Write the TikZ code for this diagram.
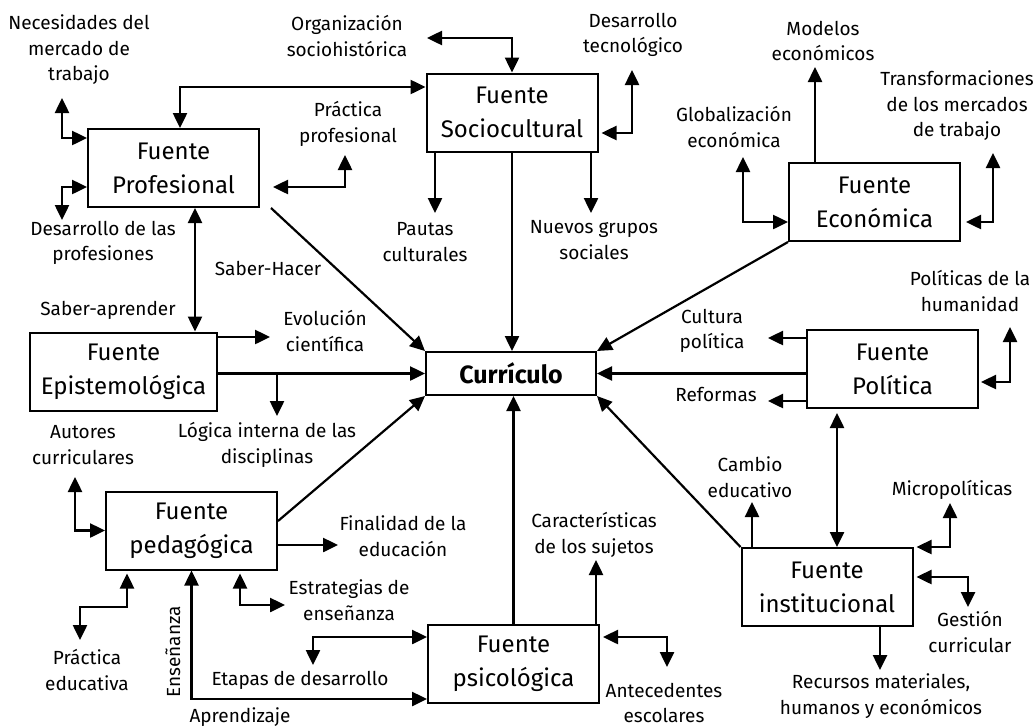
\documentclass[tikz,border=0pt]{standalone}
\usepackage{fontspec}
\setmainfont{Fira Sans}
\usetikzlibrary{arrows.meta}
\begin{document}
\begin{tikzpicture}[x=1pt,y=-1pt,
  >={Triangle[length=15pt,width=14pt]},
  fuente/.style={draw, line width=2pt, align=center, inner sep=0pt,
    minimum width=171pt, minimum height=78pt, font=\fontsize{24}{34}\selectfont},
  lbl/.style={align=center, inner sep=0pt, font=\fontsize{19}{25.5}\selectfont},
  arr/.style={line width=2.5pt, ->},
  dbl/.style={line width=2.5pt, <->},
  diag/.style={line width=2.2pt, ->}]
\useasboundingbox (0,0) rectangle (1036,726);

% sources
\node[fuente] (prof) at (173.5,168) {Fuente\\Profesional};
\node[fuente] (socio) at (512,112.5) {Fuente\\Sociocultural};
\node[fuente] (econ) at (874.5,202) {Fuente\\Económica};
\node[fuente] (pol) at (892.5,369) {Fuente\\Política};
\node[fuente] (inst) at (827,587) {Fuente\\institucional};
\node[fuente] (psico) at (513.5,664) {Fuente\\psicológica};
\node[fuente] (ped) at (191.5,530.5) {Fuente\\pedagógica};
\node[fuente, minimum width=187pt] (epist) at (123.5,371.5) {Fuente\\Epistemológica};
\node[fuente, minimum width=170pt, minimum height=43pt,
  font=\fontsize{25}{34}\selectfont\bfseries] (curr) at (511,373.5) {Currículo};

% labels
\node[lbl] (nec) at (79,50) {Necesidades del\\mercado de\\trabajo};
\node[lbl] (org) at (347,36) {Organización\\sociohistórica};
\node[lbl] (desprof) at (103,243) {Desarrollo de las\\profesiones};
\node[lbl] (pprof) at (348,124) {Práctica\\profesional};
\node[lbl] (destec) at (633,35) {Desarrollo\\tecnológico};
\node[lbl] (pautas) at (425,242) {Pautas\\culturales};
\node[lbl] (nuevos) at (594,240) {Nuevos grupos\\sociales};
\node[lbl] (modelos) at (823,41) {Modelos\\económicos};
\node[lbl] (glob) at (734,127) {Globalización\\económica};
\node[lbl] (trans) at (957,106) {Transformaciones\\de los mercados\\de trabajo};
\node[lbl] (cultura) at (712,331) {Cultura\\política};
\node[lbl] (reformas) at (716,394) {Reformas};
\node[lbl] (polhum) at (970,291) {Políticas de la\\humanidad};
\node[lbl] (cambio) at (750,477) {Cambio\\educativo};
\node[lbl] (micro) at (952,490) {Micropolíticas};
\node[lbl] (gestion) at (970,632) {Gestión\\curricular};
\node[lbl] (recursos) at (881,696) {Recursos materiales,\\humanos y económicos};
\node[lbl] (caract) at (594,535) {Características\\de los sujetos};
\node[lbl] (antec) at (664,703) {Antecedentes\\escolares};
\node[lbl] (etapas) at (300,680) {Etapas de desarrollo};
\node[lbl] (aprend) at (240,717) {Aprendizaje};
\node[lbl, rotate=90] (ensen) at (173,652) {Enseñanza};
\node[lbl] (pedu) at (87,670) {Práctica\\educativa};
\node[lbl] (autores) at (83,445) {Autores\\curriculares};
\node[lbl] (finalidad) at (403,536) {Finalidad de la\\educación};
\node[lbl] (estrat) at (349,600) {Estrategias de\\enseñanza};
\node[lbl] (logica) at (267,445) {Lógica interna de las\\disciplinas};
\node[lbl] (evol) at (325,331) {Evolución\\científica};
\node[lbl] (sabap) at (108,310) {Saber-aprender};
\node[lbl] (sabhac) at (268,268) {Saber-Hacer};

% free ends of the connectors
\coordinate (necTip) at (62,98);
\coordinate (dpTip) at (62,220);
\coordinate (ppTip) at (345,155);
\coordinate (orgTip) at (427,38);
\coordinate (dtTip) at (632,70);
\coordinate (pauTip) at (435,213);
\coordinate (nueTip) at (591,213);
\coordinate (modTip) at (815,67);
\coordinate (globTip) at (743,157);
\coordinate (trTip) at (993,153);
\coordinate (culTip) at (768,338);
\coordinate (refTip) at (768,401);
\coordinate (phTip) at (1010,327);
\coordinate (camTip) at (752,502);
\coordinate (micTip) at (950,503);
\coordinate (gesTip) at (968,607);
\coordinate (recTip) at (880,670);
\coordinate (carTip) at (596,560);
\coordinate (antTip) at (667,667);
\coordinate (etaTip) at (313,665);
\coordinate (autTip) at (75,477);
\coordinate (finTip) at (338,545);
\coordinate (estTip) at (285,605);
\coordinate (peTip) at (80,640);
\coordinate (peKnee) at (80,607);
\coordinate (evTip) at (270,337);
\coordinate (logTip) at (277,416);
\coordinate (peX) at (195,0);
\coordinate (piX) at (837,0);

% Fuente Profesional
\draw[dbl] (necTip) |- ([yshift=30pt]prof.west);
\draw[dbl] ([yshift=-19pt]prof.west) -| (dpTip);
\draw[dbl] ([xshift=6.5pt]prof.north) |- ([yshift=25.5pt]socio.west);
\draw[dbl] (ppTip) |- ([xshift=13pt,yshift=-19pt]prof.east);
\draw[diag] ([xshift=11pt]prof.south east) -- (curr.north west);
\draw[dbl] (peX |- prof.south) -- (peX |- epist.north);

% Fuente Sociocultural
\draw[dbl] (socio.north) |- (orgTip);
\draw[dbl] (dtTip) |- ([xshift=3pt,yshift=-20.5pt]socio.east);
\draw[arr] (pauTip |- socio.south) -- (pauTip);
\draw[arr] (nueTip |- socio.south) -- (nueTip);
\draw[arr] (socio.south) -- (socio.south |- curr.north);

% Fuente Economica
\draw[arr] (modTip |- econ.north) -- (modTip);
\draw[dbl] (globTip) |- ([yshift=-20pt]econ.west);
\draw[dbl] (trTip) |- ([xshift=5pt,yshift=-20pt]econ.east);
\draw[diag] (econ.south west) -- (curr.north east);

% Fuente Politica
\draw[arr] (culTip -| pol.west) -- (culTip);
\draw[arr] (refTip -| pol.west) -- (refTip);
\draw[arr] (curr.east -| pol.west) -- (curr.east);
\draw[dbl] (phTip) |- ([xshift=2pt,yshift=-13pt]pol.east);
\draw[dbl, shorten <=4pt] (piX |- pol.south) -- (piX |- inst.north);

% Fuente institucional
\draw[arr] (camTip |- inst.north) -- (camTip);
\draw[dbl] (micTip) |- ([xshift=3pt]inst.north east);
\draw[dbl] ([xshift=3pt,yshift=10pt]inst.east) -| (gesTip);
\draw[arr] (recTip |- inst.south) -- (recTip);
\draw[diag] (inst.north west) -- (curr.south east);

% Fuente psicologica
\draw[arr] (psico.north) -- (psico.north |- curr.south);
\draw[arr] (carTip |- psico.north) -- (carTip);
\draw[dbl] ([xshift=3pt,yshift=27pt]psico.east) -| (antTip);
\draw[dbl] ([yshift=27pt]psico.west) -| (etaTip);

% Fuente pedagogica
\draw[dbl] (ped.south) |- ([yshift=-35pt]psico.west);
\draw[dbl] (autTip) |- (ped.west);
\draw[arr] (finTip -| ped.east) -- (finTip);
\draw[dbl] ([xshift=48.5pt,yshift=-3pt]ped.south) |- (estTip);
\draw[dbl] ([xshift=-64.5pt,yshift=-3pt]ped.south) |- (peKnee) -- (peTip);
\draw[diag] ([yshift=9.5pt]ped.east) -- (curr.south west);

% Fuente Epistemologica
\draw[arr] (evTip -| epist.east) -- (evTip);
\draw[arr] (curr.west -| epist.east) -- (curr.west);
\draw[arr] (logTip |- curr.west) -- (logTip);
\end{tikzpicture}
\end{document}
